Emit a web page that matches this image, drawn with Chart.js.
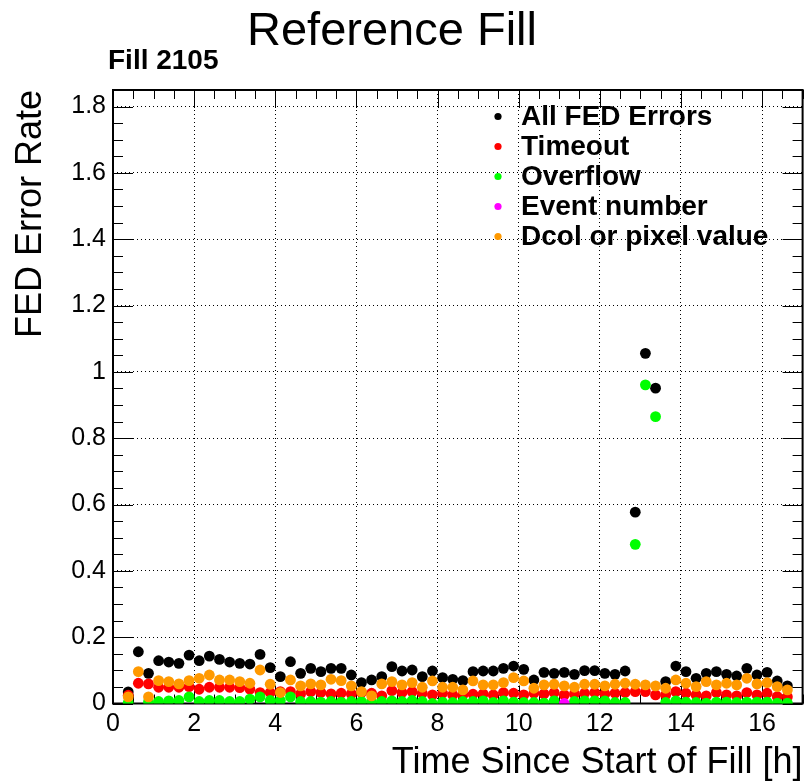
<!DOCTYPE html>
<html>
<head>
<meta charset="utf-8">
<title>Reference Fill</title>
<script src="https://cdn.jsdelivr.net/npm/chart.js@4.4.1/dist/chart.umd.min.js"></script>
<style>
  html, body { margin: 0; padding: 0; background: #fff; }
</style>
</head>
<body>
<canvas id="chart" width="808" height="781"></canvas>
<script>
// time since start of fill [h], one entry per measurement
const times = [
  0.375, 0.625, 0.875, 1.125, 1.375, 1.625, 1.875, 2.125, 2.375, 2.625, 2.875,
  3.125, 3.375, 3.625, 3.875, 4.125, 4.375, 4.625, 4.875, 5.125, 5.375, 5.625,
  5.875, 6.125, 6.375, 6.625, 6.875, 7.125, 7.375, 7.625, 7.875, 8.125, 8.375,
  8.625, 8.875, 9.125, 9.375, 9.625, 9.875, 10.125, 10.375, 10.625, 10.875, 11.125,
  11.375, 11.625, 11.875, 12.125, 12.375, 12.625, 12.875, 13.125, 13.375, 13.625, 13.875,
  14.125, 14.375, 14.625, 14.875, 15.125, 15.375, 15.625, 15.875, 16.125, 16.375, 16.625
];

const allErrors = [
  0.035, 0.156, 0.091, 0.129, 0.125, 0.121, 0.146, 0.129, 0.143, 0.133, 0.125,
  0.121, 0.119, 0.148, 0.108, 0.081, 0.126, 0.091, 0.106, 0.096, 0.106, 0.106,
  0.086, 0.063, 0.071, 0.081, 0.111, 0.098, 0.101, 0.081, 0.098, 0.078, 0.073,
  0.069, 0.096, 0.098, 0.098, 0.106, 0.113, 0.103, 0.071, 0.094, 0.091, 0.094,
  0.088, 0.099, 0.099, 0.091, 0.088, 0.098, 0.577, 1.056, 0.951, 0.066, 0.113,
  0.096, 0.076, 0.091, 0.096, 0.088, 0.083, 0.106, 0.086, 0.094, 0.068, 0.053
];

const timeout = [
  0.025, 0.061, 0.059, 0.049, 0.049, 0.049, 0.051, 0.043, 0.049, 0.049, 0.049,
  0.048, 0.043, 0.033, 0.033, 0.036, 0.036, 0.029, 0.036, 0.033, 0.029, 0.031,
  0.029, 0.033, 0.031, 0.023, 0.039, 0.033, 0.036, 0.031, 0.026, 0.031, 0.026,
  0.026, 0.028, 0.029, 0.026, 0.033, 0.031, 0.026, 0.031, 0.029, 0.033, 0.026,
  0.029, 0.031, 0.033, 0.029, 0.031, 0.033, 0.036, 0.036, 0.026, 0.026, 0.036,
  0.031, 0.026, 0.023, 0.033, 0.026, 0.023, 0.033, 0.026, 0.031, 0.021, 0.020
];

const overflow = [
  0.002, null, 0.005, 0.006, 0.008, 0.009, 0.020, 0.006, 0.009, 0.009, 0.006,
  0.006, 0.013, 0.020, 0.009, 0.009, 0.020, 0.006, 0.006, 0.004, 0.006, 0.004,
  0.006, 0.006, 0.006, 0.006, 0.008, 0.006, 0.009, 0.006, 0.000, 0.004, 0.003,
  0.006, 0.006, 0.008, 0.003, 0.008, 0.004, 0.003, 0.003, 0.001, 0.008, null,
  0.006, 0.008, 0.008, 0.008, 0.003, 0.003, 0.480, 0.961, 0.865, 0.003, 0.008,
  0.004, 0.003, 0.001, 0.004, 0.004, 0.003, 0.004, 0.004, 0.004, 0.001, 0.001
];

const eventTimes = [11.125];
const eventNumber = [0.000];

const dcolPixel = [
  0.020, 0.096, 0.020, 0.069, 0.066, 0.059, 0.069, 0.076, 0.086, 0.071, 0.071,
  0.066, 0.061, 0.101, 0.058, 0.033, 0.071, 0.053, 0.059, 0.056, 0.073, 0.069,
  0.053, 0.036, 0.023, 0.059, 0.066, 0.056, 0.063, 0.049, 0.068, 0.049, 0.049,
  0.041, 0.068, 0.056, 0.056, 0.063, 0.078, 0.068, 0.046, 0.056, 0.058, 0.053,
  0.049, 0.058, 0.058, 0.053, 0.058, 0.061, 0.058, 0.056, 0.053, 0.046, 0.071,
  0.061, 0.051, 0.066, 0.056, 0.061, 0.056, 0.076, 0.059, 0.063, 0.051, 0.041
];

const xTicks = [0, 2, 4, 6, 8, 10, 12, 14, 16];
const yTicks = [0, 0.2, 0.4, 0.6, 0.8, 1, 1.2, 1.4, 1.6, 1.8];

const FONT = 'Liberation Sans, Arial, Helvetica, sans-serif';

function toPoints(xs, ys) {
  const pts = [];
  for (let i = 0; i < xs.length; i++) {
    if (ys[i] !== null) pts.push({ x: xs[i], y: ys[i] });
  }
  return pts;
}

function series(label, xs, ys, color, order) {
  return {
    label: label,
    data: toPoints(xs, ys),
    pointRadius: 5.4,
    pointHoverRadius: 5.4,
    pointBackgroundColor: color,
    pointBorderColor: color,
    pointBorderWidth: 0,
    backgroundColor: color,
    borderColor: color,
    showLine: false,
    order: order
  };
}

// ROOT-like frame: box, inside ticks on all four sides, texts and legend
const rootStyle = {
  id: 'rootStyle',
  beforeDraw(chart) {
    const ctx = chart.ctx;
    ctx.save();
    ctx.fillStyle = '#fff';
    ctx.fillRect(0, 0, chart.width, chart.height);
    ctx.restore();
  },
  beforeDatasetsDraw(chart) {
    const { ctx, chartArea: a, scales: { x, y } } = chart;
    ctx.save();
    ctx.strokeStyle = '#000';
    ctx.lineWidth = 1;
    ctx.beginPath();
    for (let v = 0; v <= x.max + 1e-9; v += 0.5) {
      const px = Math.round(x.getPixelForValue(v)) + 0.5;
      const len = (Math.abs(v % 2) < 1e-9) ? 18 : 9;
      ctx.moveTo(px, a.bottom); ctx.lineTo(px, a.bottom - len);
      ctx.moveTo(px, a.top); ctx.lineTo(px, a.top + len);
    }
    for (let v = 0; v <= y.max + 1e-9; v += 0.05) {
      const py = Math.round(y.getPixelForValue(v)) + 0.5;
      const major = Math.abs(v / 0.2 - Math.round(v / 0.2)) < 1e-6;
      const len = major ? 20 : 10;
      ctx.moveTo(a.left, py); ctx.lineTo(a.left + len, py);
      ctx.moveTo(a.right, py); ctx.lineTo(a.right - len, py);
    }
    ctx.stroke();
    ctx.lineWidth = 2;
    ctx.strokeRect(a.left, a.top, a.right - a.left, a.bottom - a.top);
    ctx.restore();
  },
  afterDraw(chart) {
    const ctx = chart.ctx;
    ctx.save();
    ctx.fillStyle = '#000';
    ctx.textBaseline = 'alphabetic';
    ctx.textAlign = 'center';
    ctx.font = '47px ' + FONT;
    ctx.fillText('Reference Fill', 392, 45);
    ctx.textAlign = 'left';
    ctx.font = 'bold 28px ' + FONT;
    ctx.fillText('Fill 2105', 108, 69);

    // legend, in the order the series were added
    ctx.textBaseline = 'middle';
    chart.data.datasets.forEach((ds, i) => {
      const cy = 116.5 + i * 30;
      ctx.fillStyle = ds.pointBackgroundColor;
      ctx.beginPath();
      ctx.arc(498, cy, 3.6, 0, Math.PI * 2);
      ctx.fill();
      ctx.fillStyle = '#000';
      ctx.fillText(ds.label, 521, cy + 1);
    });
    ctx.restore();
  }
};

const chart = new Chart(document.getElementById('chart').getContext('2d'), {
  type: 'scatter',
  data: {
    datasets: [
      series('All FED Errors', times, allErrors, '#000000', 4),
      series('Timeout', times, timeout, '#ff0000', 3),
      series('Overflow', times, overflow, '#00ff00', 2),
      series('Event number', eventTimes, eventNumber, '#ff00ff', 1),
      series('Dcol or pixel value', times, dcolPixel, '#ff9900', 0)
    ]
  },
  options: {
    responsive: false,
    animation: false,
    devicePixelRatio: 1,
    layout: { padding: { top: 90, right: 4, left: 0, bottom: 0 } },
    plugins: {
      legend: { display: false },
      title: { display: false },
      tooltip: { enabled: false }
    },
    scales: {
      x: {
        type: 'linear',
        min: 0,
        max: 17,
        afterBuildTicks: s => { s.ticks = xTicks.map(v => ({ value: v })); },
        afterFit: s => { s.height = 77.5; },
        ticks: {
          autoSkip: false,
          maxRotation: 0,
          padding: 6,
          color: '#000',
          font: { family: FONT, size: 25 },
          callback: v => String(v)
        },
        grid: { color: '#000', lineWidth: 1, drawTicks: false },
        border: { display: false, dash: [1, 3] },
        title: {
          display: true,
          text: 'Time Since Start of Fill [h]',
          align: 'end',
          color: '#000',
          font: { family: FONT, size: 36, lineHeight: 1 },
          padding: { top: 0, bottom: 0 }
        }
      },
      y: {
        type: 'linear',
        min: 0,
        max: 1.85,
        afterBuildTicks: s => { s.ticks = yTicks.map(v => ({ value: v })); },
        afterFit: s => { s.width = 113; },
        ticks: {
          autoSkip: false,
          padding: 7,
          color: '#000',
          font: { family: FONT, size: 25 },
          callback: v => String(v)
        },
        grid: { color: '#000', lineWidth: 1, drawTicks: false },
        border: { display: false, dash: [1, 3] },
        title: {
          display: true,
          text: 'FED Error Rate',
          align: 'end',
          color: '#000',
          font: { family: FONT, size: 36, lineHeight: 1 },
          padding: { top: 13, bottom: 0 }
        }
      }
    }
  },
  plugins: [rootStyle]
});
</script>
</body>
</html>
